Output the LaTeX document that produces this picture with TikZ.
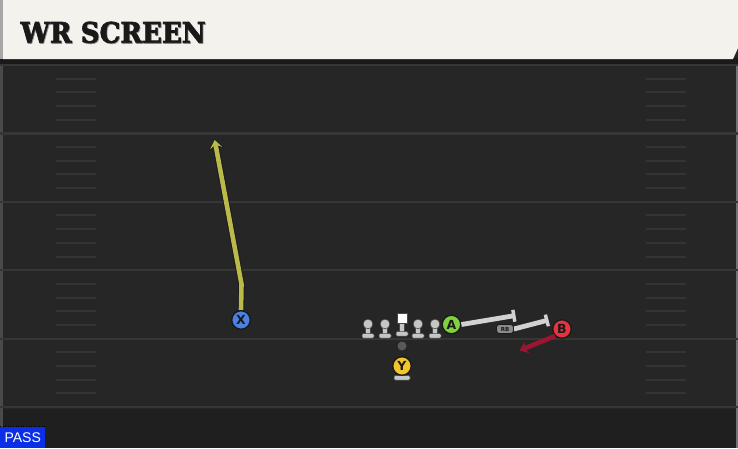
\documentclass[tikz,border=0pt]{standalone}
\usepackage{fontspec}
\setmainfont{DejaVu Sans}
\newfontfamily\titlefont{DejaVu Serif}[FakeBold=2.5]
\newfontfamily\passfont{Liberation Sans}
\usetikzlibrary{arrows.meta}
\definecolor{cream}{HTML}{F4F2EC}
\definecolor{fieldbg}{HTML}{262626}
\definecolor{fieldlow}{HTML}{1F1F1F}
\definecolor{band}{HTML}{1A1A1A}
\definecolor{yardline}{HTML}{363636}
\definecolor{hashc}{HTML}{343434}
\definecolor{xblue}{HTML}{4A82E2}
\definecolor{yyel}{HTML}{F0C62A}
\definecolor{agreen}{HTML}{7FD13F}
\definecolor{bred}{HTML}{E6343E}
\definecolor{olive}{HTML}{BABA4A}
\definecolor{blockgrey}{HTML}{D2D2D2}
\definecolor{routered}{HTML}{9C1632}
\definecolor{pingrey}{HTML}{C6C6C6}
\definecolor{passblue}{HTML}{0A2FE6}
\tikzset{
  player/.style={circle, minimum size=18.5pt, inner sep=0pt, draw=band, line width=1.3pt,
    font=\bfseries\fontsize{12.5}{12.5}\selectfont, text=band},
  rbbox/.style={rounded corners=3pt, fill=pingrey!70!black, draw=band, line width=0.7pt,
    minimum width=17pt, minimum height=9pt, inner sep=0pt,
    font=\bfseries\fontsize{5.5}{5.5}\selectfont, text=band},
  yardstyle/.style={draw=yardline, line width=2.2pt},
  hashstyle/.style={draw=hashc, line width=2pt},
  olivebase/.style={draw=band, line width=6.5pt},
  oliveroute/.style={draw=olive, line width=4.6pt},
  blockroute/.style={draw=blockgrey, line width=4.8pt, -{Bar[width=12pt,line width=3.4pt]}},
  redroute/.style={draw=routered, line width=4.6pt, -{Stealth[length=8pt,width=12pt,inset=2.5pt]}},
  pinfill/.style={fill=pingrey, draw=band!80, line width=0.5pt},
}
\newcommand{\linepin}[2]{%
  \fill[pinfill] (#1-2.3,#2) rectangle (#1+2.3,#2+11);
  \fill[pinfill, rounded corners=1.2pt] (#1-6,#2+9.5) rectangle (#1+6,#2+14);
}
\begin{document}
\begin{tikzpicture}[x=1pt,y=-1pt]
\useasboundingbox (0,0) rectangle (738,448);
% field
\fill[fieldbg] (0,0) rectangle (738,448);
\fill[fieldlow] (0,409) rectangle (738,448);
\fill[yardline!90] (0,59) rectangle (3,448);
\fill[yardline!70] (735.5,59) rectangle (738,448);
% yard lines
\foreach \k in {0,...,5}{
  \path[yardstyle] (0,65+68.4*\k) -- (738,65+68.4*\k);
}
% hash marks
\foreach \k in {0,...,4}{
  \foreach \j in {1,...,4}{
    \path[hashstyle] (56,65+68.4*\k+13.68*\j) -- (96,65+68.4*\k+13.68*\j);
    \path[hashstyle] (646,65+68.4*\k+13.68*\j) -- (686,65+68.4*\k+13.68*\j);
  }
}
% header
\fill[band] (0,58) rectangle (738,63.5);
\fill[cream] (3,0) -- (738,0) -- (738,48) -- (733,59) -- (3,59) -- cycle;
\fill[gray!70] (0,0) rectangle (3,59);
\node[anchor=south west, inner sep=0pt, text=gray!80] at (21.3,44.1) {\resizebox{185pt}{21pt}{\titlefont\bfseries WR SCREEN}};
\node[anchor=south west, inner sep=0pt, text=black!90] (title) at (20.5,43.3) {\resizebox{185pt}{21pt}{\titlefont\bfseries WR SCREEN}};

% linemen
\foreach \xx in {368,385,418,435}{
  \linepin{\xx}{324}
  \fill[pinfill] (\xx,324) circle (4.8pt);
}
\linepin{402}{322}
\node[fill=white, draw=band!80, line width=0.5pt, minimum size=9.5pt, inner sep=0pt] (center) at (402,318) {};
% ball
\node[circle, fill=gray!70!black, minimum size=9pt, inner sep=0pt] (ball) at (402,346) {};

% Y with base
\fill[pinfill] (399.7,370) rectangle (404.3,376);
\fill[pinfill, rounded corners=1.2pt] (394,375.5) rectangle (410,380);
\node[player, fill=yyel] (Y) at (402,366) {Y};

% X route
\coordinate (xbend) at (241.5,284);
\coordinate (xend) at (214.5,139);
\node[player, fill=xblue] (X) at (241,320) {X};
\draw[olivebase, -{Stealth[length=10pt,width=15pt,inset=4pt]}] (X.north) -- (xbend) -- (xend);
\draw[oliveroute, -{Stealth[length=8pt,width=12pt,inset=3.2pt]}, shorten >=1pt] (X.north) -- (xbend) -- (xend);
\node[player, fill=xblue] at (241,320) {X};

% RB and blocks
\node[rbbox] (RB) at (505,329) {RB};
\coordinate (ablock) at (515.5,315.5);
\coordinate (rbblock) at (548.5,320);
\node[player, fill=agreen] (A) at (451.5,324.5) {A};
\draw[blockroute] (A.east) -- (ablock);
\draw[blockroute] (RB.east) -- (rbblock);
\node[rbbox] at (505,329) {RB};

% B route
\node[player, fill=bred] (B) at (562,329) {B};
\coordinate (bend) at (519.5,350.5);
\draw[redroute] (B.south west) -- (bend);

% PASS tag
\node[anchor=south west, fill=passblue, minimum width=45pt, minimum height=21pt, inner sep=0pt,
  text=white, font=\passfont\fontsize{14}{14}\selectfont] (pass) at (0,448) {PASS};
\draw[black, dotted, line width=0.6pt] (0,426.5) -- (45,426.5);
\end{tikzpicture}
\end{document}
